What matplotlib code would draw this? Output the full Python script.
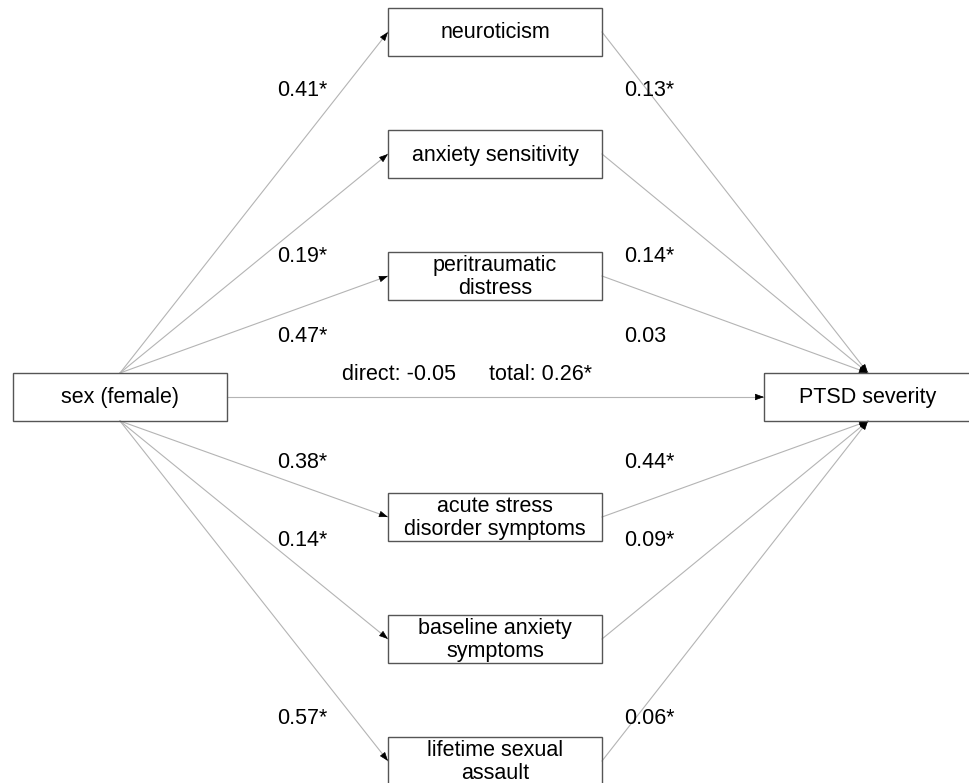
import matplotlib.pyplot as plt

plt.rcParams['font.family'] = ['Liberation Sans', 'DejaVu Sans']

# mediators and path coefficients (a: sex -> mediator, b: mediator -> PTSD)
mediators = ['neuroticism', 'anxiety sensitivity', 'peritraumatic\ndistress',
             'acute stress\ndisorder symptoms', 'baseline anxiety\nsymptoms',
             'lifetime sexual\nassault']
a_paths = ['0.41*', '0.19*', '0.47*', '0.38*', '0.14*', '0.57*']
b_paths = ['0.13*', '0.14*', '0.03', '0.44*', '0.09*', '0.06*']
direct_txt = 'direct: -0.05'
total_txt = 'total: 0.26*'

# layout in pixels
med_y = [32, 154, 276, 517, 639, 761]
lab_y = [90, 256, 337, 462, 540, 718]
mx0, mx1, bh = 388, 602, 48
sx0, sx1, sy = 13, 227, 397
px0, px1 = 764, 972

fig = plt.figure(figsize=(9.69, 7.83), dpi=100)
ax = fig.add_axes([0, 0, 1, 1])
ax.set_xlim(0, 969)
ax.set_ylim(783, 0)
ax.axis('off')

line_col = '#b4b4b4'
box_col = '#555555'
fs = 15.5


def box(x0, x1, yc, txt):
    ax.add_patch(plt.Rectangle((x0, yc - bh / 2), x1 - x0, bh, fill=False,
                               ec=box_col, lw=1.0, zorder=3))
    ax.text((x0 + x1) / 2, yc + 1, txt, ha='center', va='center', fontsize=fs,
            linespacing=1.1, zorder=4)


def arrow(p0, p1):
    ax.plot([p0[0], p1[0]], [p0[1], p1[1]], color=line_col, lw=0.8, zorder=2)
    # short black segment just for the head
    dx, dy = p1[0] - p0[0], p1[1] - p0[1]
    d = (dx ** 2 + dy ** 2) ** 0.5
    q = (p1[0] - dx / d * 6, p1[1] - dy / d * 6)
    ax.annotate('', xy=p1, xytext=q,
                arrowprops=dict(arrowstyle='-|>,head_length=0.55,head_width=0.2',
                                color='black', lw=0.5, shrinkA=0, shrinkB=0),
                zorder=2)


box(sx0, sx1, sy, 'sex (female)')
box(px0, px1, sy, 'PTSD severity')
scx = (sx0 + sx1) / 2
pcx = 868

for name, a, b, y, ly in zip(mediators, a_paths, b_paths, med_y, lab_y):
    box(mx0, mx1, y, name)
    if y < sy:
        start = (scx, sy - bh / 2)
        end = (pcx, sy - bh / 2)
    else:
        start = (scx, sy + bh / 2)
        end = (pcx, sy + bh / 2)
    arrow(start, (mx0, y))
    arrow((mx1, y), end)
    ax.text(277, ly, a, ha='left', va='center', fontsize=fs)
    ax.text(624, ly, b, ha='left', va='center', fontsize=fs)

arrow((sx1, sy), (px0, sy))
ax.text(342, 374, direct_txt, ha='left', va='center', fontsize=fs)
ax.text(489, 374, total_txt, ha='left', va='center', fontsize=fs)

fig.savefig('out.png', dpi=100, facecolor='white')
